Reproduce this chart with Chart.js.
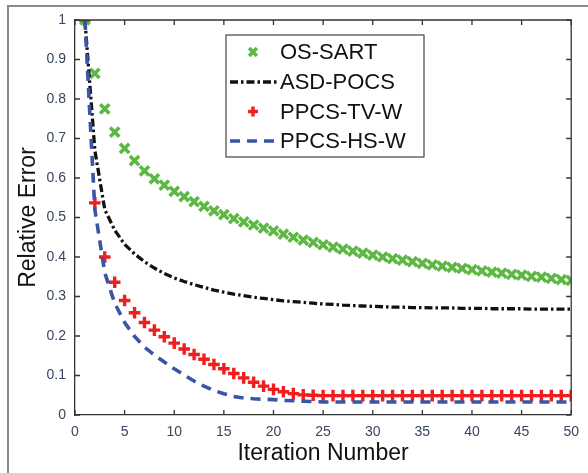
<!DOCTYPE html>
<html>
<head>
<meta charset="utf-8">
<script src="https://cdn.jsdelivr.net/npm/chart.js@4.4.1/dist/chart.umd.min.js"></script>
<style>
  html, body { margin: 0; padding: 0; background: #fff; }
  #wrap { position: relative; width: 588px; height: 473px; overflow: hidden; }
  #frame { position: absolute; left: 7px; top: 5px; width: 600px; height: 500px;
           border-left: 2px solid #8a8a8a; border-top: 2px solid #8a8a8a; }
  canvas { position: absolute; left: 0; top: 0; }
</style>
</head>
<body>
<div id="wrap">
  <div id="frame"></div>
  <canvas id="myChart" width="588" height="473"></canvas>
</div>
<script>
const iterations = [1, 2, 3, 4, 5, 6, 7, 8, 9, 10, 11, 12, 13, 14, 15, 16, 17, 18, 19, 20,
  21, 22, 23, 24, 25, 26, 27, 28, 29, 30, 31, 32, 33, 34, 35, 36, 37, 38, 39, 40,
  41, 42, 43, 44, 45, 46, 47, 48, 49, 50];

const osSart = [1.000, 0.865, 0.775, 0.716, 0.675, 0.644, 0.618, 0.598, 0.582, 0.566,
  0.553, 0.540, 0.528, 0.517, 0.507, 0.497, 0.489, 0.481, 0.473, 0.466,
  0.458, 0.450, 0.443, 0.437, 0.431, 0.425, 0.420, 0.415, 0.410, 0.405,
  0.400, 0.396, 0.392, 0.388, 0.384, 0.380, 0.377, 0.374, 0.371, 0.368,
  0.365, 0.362, 0.359, 0.356, 0.354, 0.351, 0.349, 0.346, 0.343, 0.341];

const asdPocs = [1.000, 0.670, 0.520, 0.468, 0.432, 0.408, 0.388, 0.372, 0.358, 0.347,
  0.338, 0.330, 0.323, 0.316, 0.311, 0.306, 0.302, 0.298, 0.295, 0.292,
  0.289, 0.287, 0.285, 0.283, 0.281, 0.280, 0.278, 0.277, 0.276, 0.275,
  0.274, 0.273, 0.273, 0.272, 0.272, 0.271, 0.271, 0.271, 0.270, 0.270,
  0.270, 0.269, 0.269, 0.269, 0.269, 0.268, 0.268, 0.268, 0.268, 0.268];

const ppcsTvW = [1.000, 0.537, 0.400, 0.336, 0.290, 0.259, 0.234, 0.215, 0.198, 0.182,
  0.167, 0.153, 0.141, 0.128, 0.117, 0.105, 0.094, 0.083, 0.073, 0.065,
  0.059, 0.054, 0.051, 0.050, 0.049, 0.049, 0.049, 0.049, 0.049, 0.049,
  0.049, 0.049, 0.049, 0.049, 0.049, 0.049, 0.049, 0.049, 0.049, 0.049,
  0.049, 0.049, 0.049, 0.049, 0.049, 0.049, 0.049, 0.049, 0.049, 0.049];

const ppcsHsW = [1.000, 0.520, 0.360, 0.283, 0.234, 0.199, 0.172, 0.152, 0.134, 0.117,
  0.101, 0.086, 0.073, 0.062, 0.054, 0.047, 0.043, 0.041, 0.040, 0.039,
  0.037, 0.036, 0.035, 0.034, 0.033, 0.033, 0.033, 0.033, 0.033, 0.033,
  0.033, 0.033, 0.033, 0.033, 0.033, 0.033, 0.033, 0.033, 0.033, 0.033,
  0.033, 0.033, 0.033, 0.033, 0.033, 0.033, 0.033, 0.033, 0.033, 0.033];

const seriesNames = ['OS-SART', 'ASD-POCS', 'PPCS-TV-W', 'PPCS-HS-W'];

const toPoints = (vals) => iterations.map((it, i) => ({ x: it, y: vals[i] }));

// ticks pointing into the plot on all four sides, plus top/right box lines
const boxTicks = {
  id: 'boxTicks',
  afterDraw(chart) {
    const { ctx, chartArea: a, scales } = chart;
    const len = 5;
    ctx.save();
    ctx.strokeStyle = '#333';
    ctx.lineWidth = 1.3;
    ctx.beginPath();
    ctx.moveTo(a.left, a.top);
    ctx.lineTo(a.right, a.top);
    ctx.lineTo(a.right, a.bottom);
    ctx.stroke();
    ctx.beginPath();
    scales.x.ticks.forEach(t => {
      const px = scales.x.getPixelForValue(t.value);
      ctx.moveTo(px, a.bottom); ctx.lineTo(px, a.bottom - len);
      ctx.moveTo(px, a.top); ctx.lineTo(px, a.top + len);
    });
    scales.y.ticks.forEach(t => {
      const py = scales.y.getPixelForValue(t.value);
      ctx.moveTo(a.left, py); ctx.lineTo(a.left + len, py);
      ctx.moveTo(a.right, py); ctx.lineTo(a.right - len, py);
    });
    ctx.stroke();
    ctx.restore();
  }
};

// MATLAB style legend box inside the axes
const boxLegend = {
  id: 'boxLegend',
  afterDraw(chart) {
    const ctx = chart.ctx;
    const x0 = 226, y0 = 35, w = 198, h = 122;
    const rows = [52, 82, 111.5, 141];
    ctx.save();
    ctx.fillStyle = '#fff';
    ctx.fillRect(x0, y0, w, h);
    ctx.strokeStyle = '#444';
    ctx.lineWidth = 1.2;
    ctx.strokeRect(x0, y0, w, h);
    chart.data.datasets.forEach((ds, i) => {
      const y = rows[i];
      if (ds.showLine !== false) {
        ctx.save();
        ctx.strokeStyle = ds.borderColor;
        ctx.lineWidth = ds.borderWidth;
        ctx.setLineDash(ds.borderDash || []);
        ctx.beginPath();
        ctx.moveTo(230, y);
        ctx.lineTo(278, y);
        ctx.stroke();
        ctx.restore();
      } else {
        ctx.save();
        ctx.strokeStyle = ds.pointBorderColor;
        ctx.fillStyle = ds.pointBorderColor;
        ctx.lineWidth = ds.pointBorderWidth;
        Chart.helpers.drawPoint(ctx, {
          pointStyle: ds.pointStyle,
          radius: ds.pointRadius * 0.85,
          borderWidth: ds.pointBorderWidth,
          rotation: 0
        }, 253, y);
        ctx.restore();
      }
      ctx.fillStyle = '#111';
      ctx.font = '22px "Liberation Sans", Arial, sans-serif';
      ctx.textBaseline = 'middle';
      ctx.textAlign = 'left';
      ctx.fillText(ds.label, 280, y + 1);
    });
    ctx.restore();
  }
};

const ctx = document.getElementById('myChart').getContext('2d');
const myChart = new Chart(ctx, {
  type: 'line',
  data: {
    datasets: [
      {
        label: seriesNames[0],
        data: toPoints(osSart),
        showLine: false,
        pointStyle: 'crossRot',
        pointRadius: 6.5,
        pointBorderWidth: 3.6,
        pointBorderColor: '#5cb843',
        pointBackgroundColor: '#5cb843',
        order: 3
      },
      {
        label: seriesNames[1],
        data: toPoints(asdPocs),
        borderColor: '#111',
        borderWidth: 3.3,
        borderDash: [8, 3, 2.5, 3],
        pointRadius: 0,
        tension: 0,
        order: 2
      },
      {
        label: seriesNames[2],
        data: toPoints(ppcsTvW),
        showLine: false,
        pointStyle: 'cross',
        pointRadius: 5.8,
        pointBorderWidth: 3.4,
        pointBorderColor: '#f01e1e',
        pointBackgroundColor: '#f01e1e',
        order: 1
      },
      {
        label: seriesNames[3],
        data: toPoints(ppcsHsW),
        borderColor: '#3a54a6',
        borderWidth: 3.6,
        borderDash: [10, 7],
        pointRadius: 0,
        tension: 0,
        order: 0
      }
    ]
  },
  options: {
    responsive: false,
    animation: false,
    layout: { padding: { top: 20, right: 13, left: 0, bottom: 0 } },
    plugins: {
      legend: { display: false },
      tooltip: { enabled: false }
    },
    scales: {
      x: {
        type: 'linear',
        min: 0,
        max: 50,
        afterFit: (scale) => { scale.height = 58; },
        ticks: {
          stepSize: 5,
          padding: 9,
          color: '#3a4560',
          font: { family: '"Liberation Sans", Arial, sans-serif', size: 14 }
        },
        grid: { display: false, drawTicks: false },
        border: { display: true, color: '#333', width: 1.3 },
        title: {
          display: true,
          text: 'Iteration Number',
          color: '#111',
          padding: { top: 0, bottom: 6 },
          font: { family: '"Liberation Sans", Arial, sans-serif', size: 23 }
        }
      },
      y: {
        min: 0,
        max: 1,
        afterFit: (scale) => { scale.width = 75; },
        ticks: {
          stepSize: 0.1,
          padding: 9,
          color: '#3a4560',
          font: { family: '"Liberation Sans", Arial, sans-serif', size: 14 },
          callback: (v) => String(Math.round(v * 10) / 10)
        },
        grid: { display: false, drawTicks: false },
        border: { display: true, color: '#333', width: 1.3 },
        title: {
          display: true,
          text: 'Relative Error',
          color: '#111',
          padding: { top: 15, bottom: 0 },
          font: { family: '"Liberation Sans", Arial, sans-serif', size: 23 }
        }
      }
    }
  },
  plugins: [boxTicks, boxLegend]
});
</script>
</body>
</html>
